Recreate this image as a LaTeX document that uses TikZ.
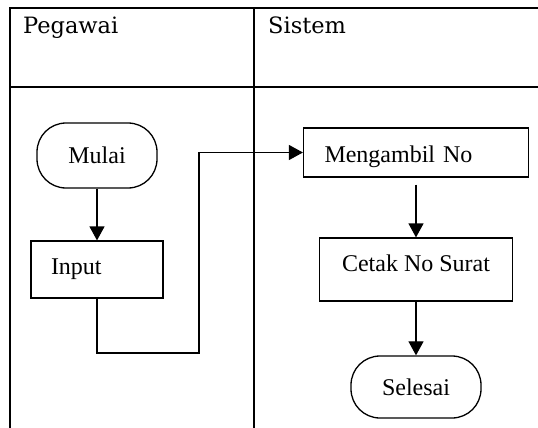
\documentclass[tikz,border=0pt]{standalone}
\usepackage{fontspec}
\newfontfamily\boxfont{Liberation Serif}
\newfontfamily\lanefont{DejaVu Serif}
\usetikzlibrary{arrows.meta}

\begin{document}
\begin{tikzpicture}[
        x=1pt, y=-1pt,
        terminal/.style={rectangle, draw, line width=1.3pt, rounded corners=29pt, minimum width=120pt, minimum height=65pt, inner sep=0pt, font=\boxfont\fontsize{24}{28}\selectfont},
        process/.style={rectangle, draw, line width=1.2pt, minimum height=57pt, inner sep=0pt, font=\boxfont\fontsize{24}{28}\selectfont},
        lane_title/.style={anchor=base west, inner sep=0pt, font=\lanefont\fontsize{22.5}{27}\selectfont},
        flow/.style={-{Triangle[length=14pt,width=15pt]}, line width=1.2pt},
        lane/.style={line width=2.2pt}
    ]

        \useasboundingbox (0,0) rectangle (538,428);

        % Swimlane table
        \draw[lane] (10,428) -- (10,8) -- (538,8);
        \draw[lane] (10,87) -- (538,87);
        \draw[lane] (254,8) -- (254,428);
        \node[lane_title] (pegawai_title) at (23,34) {Pegawai};
        \node[lane_title] (sistem_title) at (268,34) {Sistem};

        % Pegawai lane
        \node[terminal] (pegawai_mulai) at (97,155.5) {Mulai};
        \node[process, minimum width=132pt, text width=92pt, align=left] (pegawai_input) at (97,269.5) {Input};
        \coordinate (pegawai_bend) at (199,353);

        % Sistem lane
        \node[process, minimum width=225pt, minimum height=49pt, text width=183pt, align=left, text height=20pt, text depth=0pt] (sistem_ambil) at (416,152.5) {Mengambil No};
        \node[process, minimum width=193pt, minimum height=63pt, text height=16pt, text depth=12pt] (sistem_cetak) at (416,269.5) {Cetak No Surat};
        \node[terminal, minimum width=130pt, minimum height=62pt] (sistem_selesai) at (416,387) {Selesai};

        \draw[flow] (pegawai_mulai.south) -- (pegawai_input.north);
        \draw[flow] (pegawai_input.south) |- (pegawai_bend) |- (sistem_ambil.west);
        \draw[flow, shorten <=7pt] (sistem_ambil.south) -- (sistem_cetak.north);
        \draw[flow] (sistem_cetak.south) -- (sistem_selesai.north);

    \end{tikzpicture}
\end{document}
